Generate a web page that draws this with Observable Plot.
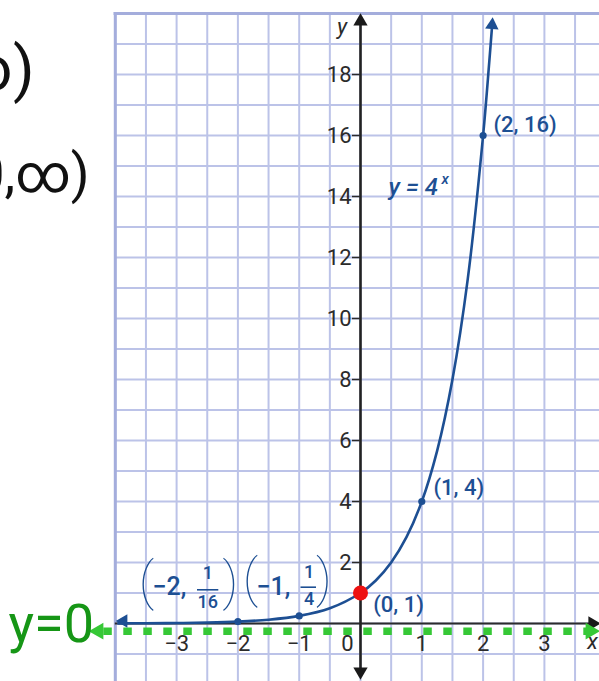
<!DOCTYPE html>
<html><head><meta charset="utf-8">
<script src="https://cdn.jsdelivr.net/npm/d3@7"></script>
<script src="https://cdn.jsdelivr.net/npm/@observablehq/plot@0.6"></script>
<style>body{margin:0;background:#fff;overflow:hidden} svg{display:block}</style>
</head><body><div id="chart"></div>
<script>
// ---- data ----
const curveX = [-3.95, -3.5, -3, -2.5, -2, -1.5, -1, -0.5, 0, 0.25, 0.5, 0.75, 1, 1.25, 1.5, 1.75, 2, 2.1, 2.147];
const curveY = [0.004, 0.008, 0.016, 0.031, 0.0625, 0.125, 0.25, 0.5, 1, 1.41, 2, 2.83, 4, 5.66, 8, 11.3, 16, 18.4, 19.6];
const pointX = [-2, -1, 1, 2];
const pointY = [0.0625, 0.25, 4, 16];
const highlightX = [0];
const highlightY = [1];
const yTicks = [2, 4, 6, 8, 10, 12, 14, 16, 18];
const xTicks = [-3, -2, -1, 1, 2, 3];
const xTickLabels = ["−3", "−2", "−1", "1", "2", "3"];
const gridX = [-4, -3.5, -3, -2.5, -2, -1.5, -1, -0.5, 0, 0.5, 1, 1.5, 2, 2.5, 3, 3.5];
const gridY = [-1, 0, 1, 2, 3, 4, 5, 6, 7, 8, 9, 10, 11, 12, 13, 14, 15, 16, 17, 18, 19, 20];
const asymptoteY = -0.25;

// ---- styles ----
const BLUE = "#1d4f93";
const GRID = "#bcc3e8";
const FRAME = "#a4addc";
const GREEN = "#36c836";
const DARKGREEN = "#169616";
const INK = "#2b2b2b";
const FONT = "Roboto, 'Liberation Sans', sans-serif";

const curve = curveX.map((x, i) => ({x, y: curveY[i]}));
const pts = pointX.map((x, i) => ({x, y: pointY[i]}));
const hl = highlightX.map((x, i) => ({x, y: highlightY[i]}));

// scale mapping: 1 x-unit = 61.3px, 1 y-unit = 30.5px
const PX = 61.3, PY = 30.5;
const xdom = [-360 / PX, 239 / PX];
const ydom = [-58 / PY, 623 / PY];
const gx = d => xdom[0] + d / PX;       // pixel -> data (annotations only)
const gy = d => ydom[1] - d / PY;

const arrowsBlack = [
  {x: 0, y: gy(21), rotate: 0},
  {x: 0, y: gy(671), rotate: 180},
  {x: gx(592), y: 0, rotate: 90}
];
const arrowsBlue = [
  {x: 2.147, y: 19.62, rotate: 4},
  {x: gx(123), y: gy(620.5), rotate: -90}
];
const arrowsGreen = [
  {x: gx(98), y: asymptoteY, rotate: -90},
  {x: gx(590), y: asymptoteY, rotate: 90}
];

const chart = Plot.plot({
  width: 599,
  height: 681,
  margin: 0,
  x: {domain: xdom, axis: null},
  y: {domain: ydom, axis: null},
  style: {background: "#fff", fontFamily: FONT},
  marks: [
    // grid
    Plot.ruleX(gridX, {x: d => d, y1: ydom[0], y2: 20, stroke: GRID, strokeWidth: 2}),
    Plot.ruleY(gridY, {y: d => d, x1: -4, x2: xdom[1], stroke: GRID, strokeWidth: 2}),
    Plot.ruleX([-4], {x: d => d, y1: ydom[0], y2: 20.03, stroke: FRAME, strokeWidth: 3}),
    Plot.ruleY([20], {y: d => d, x1: -4.02, x2: xdom[1], stroke: FRAME, strokeWidth: 3}),
    // axes
    Plot.ruleY([0], {y: d => d, x1: -4, x2: gx(594), stroke: INK, strokeWidth: 2.2}),
    Plot.ruleX([0], {x: d => d, y1: gy(675), y2: gy(20), stroke: "#222", strokeWidth: 2.6}),
    Plot.ruleY(yTicks, {y: d => d, x1: -8 / PX, x2: 0, stroke: INK, strokeWidth: 1.5}),
    Plot.dot(arrowsBlack, {x: "x", y: "y", rotate: "rotate", symbol: "triangle", r: 5.3, fill: "#1a1a1a"}),
    Plot.text(yTicks, {x: 0, y: d => d, text: d => String(d), dx: -9, textAnchor: "end", fontSize: 22, fill: INK}),
    Plot.text(xTicks, {x: d => d, y: gy(643.5), text: (d, i) => xTickLabels[i], fontSize: 22, fill: INK}),
    Plot.text(["0"], {x: 0, y: gy(643.5), text: d => d, dx: -13, fontSize: 22, fill: INK}),
    Plot.text(["y"], {x: gx(341.5), y: gy(26), text: d => d, fontSize: 22, fontStyle: "italic", fill: INK}),
    Plot.text(["x"], {x: gx(592), y: gy(641), text: d => d, fontSize: 22, fontStyle: "italic", fill: INK}),
    // asymptote
    Plot.ruleY([asymptoteY], {y: d => d, x1: gx(103.3), x2: gx(588), stroke: GREEN, strokeWidth: 7.5, strokeDasharray: "8.5,11.5"}),
    Plot.dot(arrowsGreen, {x: "x", y: "y", rotate: "rotate", symbol: "triangle", r: 6.3, fill: GREEN}),
    // curve
    Plot.line(curve, {x: "x", y: "y", stroke: BLUE, strokeWidth: 2.6, curve: "catmull-rom"}),
    Plot.dot(arrowsBlue, {x: "x", y: "y", rotate: "rotate", symbol: "triangle", r: 5, fill: BLUE}),
    Plot.dot(pts, {x: "x", y: "y", r: 3.6, fill: BLUE}),
    Plot.dot(hl, {x: "x", y: "y", r: 7.5, fill: "#ee1111"}),
    // point labels
    Plot.text(["(2, 16)"], {x: gx(493), y: gy(124), text: d => d, textAnchor: "start", fontSize: 22, fontWeight: 500, fill: BLUE}),
    Plot.text(["y = 4"], {x: gx(388), y: gy(187), text: d => d, textAnchor: "start", fontSize: 24, fontWeight: 500, fontStyle: "italic", fill: BLUE}),
    Plot.text(["x"], {x: gx(441), y: gy(179), text: d => d, textAnchor: "start", fontSize: 15, fontWeight: 500, fontStyle: "italic", fill: BLUE}),
    Plot.text(["(1, 4)"], {x: gx(433), y: gy(487), text: d => d, textAnchor: "start", fontSize: 22, fontWeight: 500, fill: BLUE}),
    Plot.text(["(0, 1)"], {x: gx(372.7), y: gy(604), text: d => d, textAnchor: "start", fontSize: 22, fontWeight: 500, fill: BLUE}),
    // (-2, 1/16)
    Plot.text(["(", ")"], {x: (d, i) => gx(i ? 230 : 146), y: gy(582), text: d => d, fontSize: 52, fontWeight: 100, fill: BLUE}),
    Plot.text(["−2,"], {x: gx(152), y: gy(586), text: d => d, textAnchor: "start", fontSize: 25, fontWeight: 500, fill: BLUE}),
    Plot.text(["1", "16"], {x: gx(207.3), y: (d, i) => gy(i ? 602 : 573), text: d => d, fontSize: 18, fontWeight: 500, fill: BLUE}),
    Plot.ruleY([1], {y: gy(589.3), x1: gx(197), x2: gx(218.3), stroke: BLUE, strokeWidth: 1.6}),
    // (-1, 1/4)
    Plot.text(["(", ")"], {x: (d, i) => gx(i ? 323.3 : 250), y: gy(579), text: d => d, fontSize: 52, fontWeight: 100, fill: BLUE}),
    Plot.text(["−1,"], {x: gx(256), y: gy(586), text: d => d, textAnchor: "start", fontSize: 25, fontWeight: 500, fill: BLUE}),
    Plot.text(["1", "4"], {x: gx(308.5), y: (d, i) => gy(i ? 599 : 572), text: d => d, fontSize: 18, fontWeight: 500, fill: BLUE}),
    Plot.ruleY([1], {y: gy(586.7), x1: gx(300.5), x2: gx(316), stroke: BLUE, strokeWidth: 1.6}),
    // handwriting
    Plot.text(["y=0"], {x: gx(8), y: gy(624), text: d => d, textAnchor: "start", fontSize: 54, fill: DARKGREEN}),
    Plot.text(["∞)"], {x: gx(34), y: gy(70), text: d => d, textAnchor: "end", fontSize: 62, fill: "#111"}),
    Plot.text(["(0,∞)"], {x: gx(89), y: gy(174), text: d => d, textAnchor: "end", fontSize: 54, fill: "#111"})
  ]
});
document.getElementById("chart").appendChild(chart);
</script>
</body></html>
